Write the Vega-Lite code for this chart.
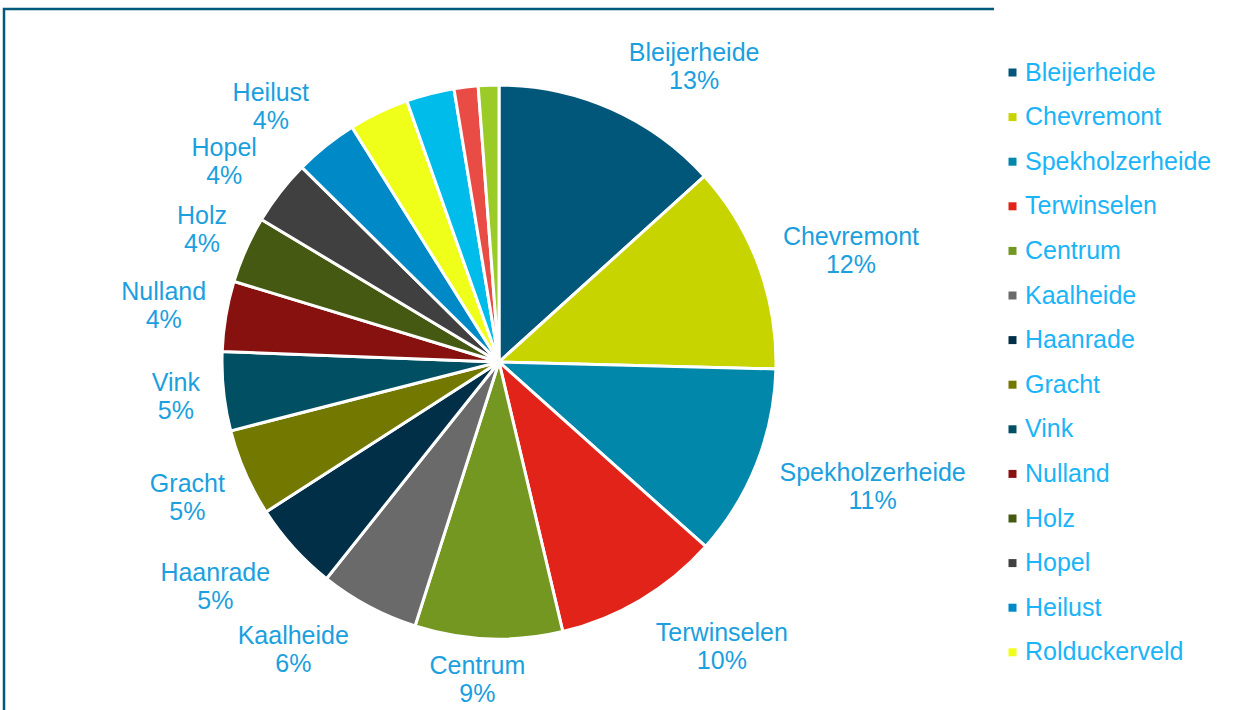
{
  "$schema": "https://vega.github.io/schema/vega-lite/v6.json",
  "width": 990,
  "height": 706,
  "autosize": {"type": "none"},
  "padding": {"left": 4, "top": 9, "right": 243, "bottom": 0},
  "background": "white",
  "view": {"stroke": "#005A7A", "strokeWidth": 2.5, "strokeDash": [990, 1696, 706]},
  "config": {
    "text": {"font": "Liberation Sans", "fontSize": 25, "color": "#1C9FDE"}
  },
  "data": {
    "values": [
      {"name": "Bleijerheide", "share": 0.133},
      {"name": "Chevremont", "share": 0.121},
      {"name": "Spekholzerheide", "share": 0.112},
      {"name": "Terwinselen", "share": 0.097},
      {"name": "Centrum", "share": 0.086},
      {"name": "Kaalheide", "share": 0.058},
      {"name": "Haanrade", "share": 0.052},
      {"name": "Gracht", "share": 0.051},
      {"name": "Vink", "share": 0.046},
      {"name": "Nulland", "share": 0.041},
      {"name": "Holz", "share": 0.039},
      {"name": "Hopel", "share": 0.038},
      {"name": "Heilust", "share": 0.037},
      {"name": "Rolduckerveld", "share": 0.035},
      {"name": "Overig", "share": 0.028},
      {"name": "Onbekend", "share": 0.014},
      {"name": "Elders", "share": 0.012}
    ]
  },
  "encoding": {
    "theta": {"field": "share", "type": "quantitative", "stack": true},
    "order": {"field": "share", "sort": "descending"}
  },
  "layer": [
    {
      "mark": {"type": "arc", "outerRadius": 277, "stroke": "white", "strokeWidth": 3},
      "encoding": {
        "color": {
          "field": "name",
          "type": "nominal",
          "scale": {
            "domain": ["Bleijerheide", "Chevremont", "Spekholzerheide", "Terwinselen", "Centrum", "Kaalheide", "Haanrade", "Gracht", "Vink", "Nulland", "Holz", "Hopel", "Heilust", "Rolduckerveld", "Overig", "Onbekend", "Elders"],
            "range": ["#00577A", "#C8D400", "#0087AA", "#E2231A", "#739720", "#6A6A6A", "#002F47", "#737800", "#014F63", "#87110E", "#465912", "#404040", "#0089C7", "#EFFF1A", "#00BCEA", "#E84C45", "#9BCB26"]
          },
          "legend": {
            "orient": "none",
            "legendX": 996,
            "legendY": 51,
            "values": ["Bleijerheide", "Chevremont", "Spekholzerheide", "Terwinselen", "Centrum", "Kaalheide", "Haanrade", "Gracht", "Vink", "Nulland", "Holz", "Hopel", "Heilust", "Rolduckerveld"],
            "title": null,
            "symbolType": "square",
            "symbolSize": 64,
            "symbolStrokeWidth": 0,
            "labelFont": "Liberation Sans",
            "labelFontSize": 25,
            "labelColor": "#1AB4F8",
            "labelOffset": 0,
            "labelLimit": 400,
            "rowPadding": 18.6,
            "padding": 0
          }
        }
      }
    },
    {
      "mark": {"type": "text", "radius": 319, "thetaOffset": 0.03, "dy": -14},
      "encoding": {"detail": {"field": "name"}, "text": {"condition": {"test": "datum.name === 'Centrum'", "field": "name"}, "value": ""}}
    },
    {
      "mark": {"type": "text", "radius": 319, "thetaOffset": 0.03, "dy": 14},
      "encoding": {"detail": {"field": "name"}, "text": {"condition": {"test": "datum.name === 'Centrum'", "field": "share", "type": "quantitative", "format": ".0%"}, "value": ""}}
    },
    {
      "mark": {"type": "text", "radius": 325, "dy": -14},
      "encoding": {"detail": {"field": "name"}, "text": {"condition": {"test": "indexof(['Vink','Holz'], datum.name) >= 0", "field": "name"}, "value": ""}}
    },
    {
      "mark": {"type": "text", "radius": 325, "dy": 14},
      "encoding": {"detail": {"field": "name"}, "text": {"condition": {"test": "indexof(['Vink','Holz'], datum.name) >= 0", "field": "share", "type": "quantitative", "format": ".0%"}, "value": ""}}
    },
    {
      "mark": {"type": "text", "radius": 340, "dy": -14},
      "encoding": {"detail": {"field": "name"}, "text": {"condition": {"test": "indexof(['Nulland','Gracht'], datum.name) >= 0", "field": "name"}, "value": ""}}
    },
    {
      "mark": {"type": "text", "radius": 340, "dy": 14},
      "encoding": {"detail": {"field": "name"}, "text": {"condition": {"test": "indexof(['Nulland','Gracht'], datum.name) >= 0", "field": "share", "type": "quantitative", "format": ".0%"}, "value": ""}}
    },
    {
      "mark": {"type": "text", "radius": 340, "thetaOffset": -0.03, "dy": -14},
      "encoding": {"detail": {"field": "name"}, "text": {"condition": {"test": "datum.name === 'Hopel'", "field": "name"}, "value": ""}}
    },
    {
      "mark": {"type": "text", "radius": 340, "thetaOffset": -0.03, "dy": 14},
      "encoding": {"detail": {"field": "name"}, "text": {"condition": {"test": "datum.name === 'Hopel'", "field": "share", "type": "quantitative", "format": ".0%"}, "value": ""}}
    },
    {
      "mark": {"type": "text", "radius": 342, "thetaOffset": -0.055, "dy": -14},
      "encoding": {"detail": {"field": "name"}, "text": {"condition": {"test": "datum.name === 'Heilust'", "field": "name"}, "value": ""}}
    },
    {
      "mark": {"type": "text", "radius": 342, "thetaOffset": -0.055, "dy": 14},
      "encoding": {"detail": {"field": "name"}, "text": {"condition": {"test": "datum.name === 'Heilust'", "field": "share", "type": "quantitative", "format": ".0%"}, "value": ""}}
    },
    {
      "mark": {"type": "text", "radius": 354, "thetaOffset": 0.13, "dy": -14},
      "encoding": {"detail": {"field": "name"}, "text": {"condition": {"test": "datum.name === 'Kaalheide'", "field": "name"}, "value": ""}}
    },
    {
      "mark": {"type": "text", "radius": 354, "thetaOffset": 0.13, "dy": 14},
      "encoding": {"detail": {"field": "name"}, "text": {"condition": {"test": "datum.name === 'Kaalheide'", "field": "share", "type": "quantitative", "format": ".0%"}, "value": ""}}
    },
    {
      "mark": {"type": "text", "radius": 362, "thetaOffset": 0.065, "dy": -14},
      "encoding": {"detail": {"field": "name"}, "text": {"condition": {"test": "datum.name === 'Haanrade'", "field": "name"}, "value": ""}}
    },
    {
      "mark": {"type": "text", "radius": 362, "thetaOffset": 0.065, "dy": 14},
      "encoding": {"detail": {"field": "name"}, "text": {"condition": {"test": "datum.name === 'Haanrade'", "field": "share", "type": "quantitative", "format": ".0%"}, "value": ""}}
    },
    {
      "mark": {"type": "text", "radius": 369, "thetaOffset": 0.05, "dy": -14},
      "encoding": {"detail": {"field": "name"}, "text": {"condition": {"test": "datum.name === 'Chevremont'", "field": "name"}, "value": ""}}
    },
    {
      "mark": {"type": "text", "radius": 369, "thetaOffset": 0.05, "dy": 14},
      "encoding": {"detail": {"field": "name"}, "text": {"condition": {"test": "datum.name === 'Chevremont'", "field": "share", "type": "quantitative", "format": ".0%"}, "value": ""}}
    },
    {
      "mark": {"type": "text", "radius": 394, "thetaOffset": -0.054, "dy": -14},
      "encoding": {"detail": {"field": "name"}, "text": {"condition": {"test": "datum.name === 'Spekholzerheide'", "field": "name"}, "value": ""}}
    },
    {
      "mark": {"type": "text", "radius": 394, "thetaOffset": -0.054, "dy": 14},
      "encoding": {"detail": {"field": "name"}, "text": {"condition": {"test": "datum.name === 'Spekholzerheide'", "field": "share", "type": "quantitative", "format": ".0%"}, "value": ""}}
    },
    {
      "mark": {"type": "text", "radius": 354, "thetaOffset": 0.166, "dy": -14},
      "encoding": {"detail": {"field": "name"}, "text": {"condition": {"test": "datum.name === 'Bleijerheide'", "field": "name"}, "value": ""}}
    },
    {
      "mark": {"type": "text", "radius": 354, "thetaOffset": 0.166, "dy": 14},
      "encoding": {"detail": {"field": "name"}, "text": {"condition": {"test": "datum.name === 'Bleijerheide'", "field": "share", "type": "quantitative", "format": ".0%"}, "value": ""}}
    },
    {
      "mark": {"type": "text", "radius": 362, "thetaOffset": -0.126, "dy": -14},
      "encoding": {"detail": {"field": "name"}, "text": {"condition": {"test": "datum.name === 'Terwinselen'", "field": "name"}, "value": ""}}
    },
    {
      "mark": {"type": "text", "radius": 362, "thetaOffset": -0.126, "dy": 14},
      "encoding": {"detail": {"field": "name"}, "text": {"condition": {"test": "datum.name === 'Terwinselen'", "field": "share", "type": "quantitative", "format": ".0%"}, "value": ""}}
    }
  ]
}
